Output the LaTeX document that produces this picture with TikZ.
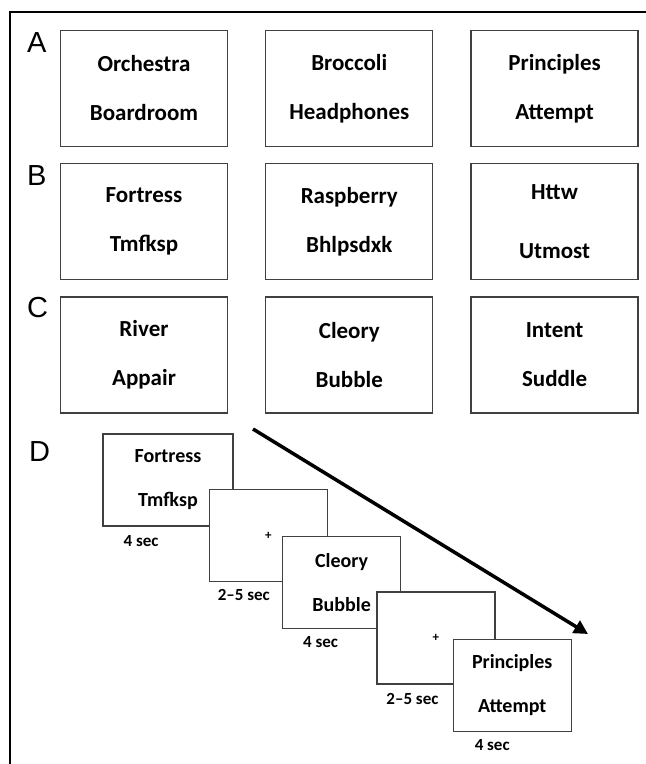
\documentclass[tikz,border=0pt]{standalone}
\usepackage{fontspec}
\setmainfont{Carlito}
\newfontfamily\panelfont{Liberation Sans}
\usepackage{tikz}
\usetikzlibrary{positioning}
\usetikzlibrary{arrows.meta}
\tikzstyle{wordbox} = [rectangle, draw=black!75, line width=1.3pt, minimum width=167pt, minimum height=116pt, align=center, font=\fontsize{23}{49}\selectfont\bfseries]
\tikzstyle{trialbox} = [rectangle, draw=black!75, fill=white, line width=1.3pt, minimum width=118pt, minimum height=92pt, align=center, font=\fontsize{20}{44}\selectfont\bfseries]
\tikzstyle{timelbl} = [anchor=west, inner sep=0pt, font=\fontsize{17}{20}\selectfont\bfseries]
\tikzstyle{panel} = [anchor=base west, inner sep=0pt, font=\fontsize{29}{32}\selectfont\panelfont]
\tikzstyle{arrow} = [line width=3.5pt, -{Triangle[length=14pt,width=14pt]}]
\begin{document}
\begin{tikzpicture}[x=1pt, y=-1pt]
		\useasboundingbox (0,0) rectangle (646,764);
		\draw[line width=2.5pt] (646,12) -- (10,12) -- (10,764);
		% A, B, C: word pairs
		\node[wordbox] (A1) at (144,88.5) {Orchestra\\Boardroom};
		\node[wordbox, right=37pt of A1] (A2) {Broccoli\\Headphones};
		\node[wordbox, right=37pt of A2] (A3) {Principles\\Attempt};
		\node[wordbox, below=16pt of A1] (B1) {Fortress\\Tmfksp};
		\node[wordbox, below=16pt of A2] (B2) {Raspberry\\Bhlpsdxk};
		\node[wordbox, below=16pt of A3] (B3) {Httw\\[10pt]Utmost};
		\node[wordbox, below=16pt of B1] (C1) {River\\Appair};
		\node[wordbox, below=16pt of B2] (C2) {Cleory\\Bubble};
		\node[wordbox, below=16pt of B3] (C3) {Intent\\Suddle};
		\node[panel] (labA) at (27,52) {A};
		\node[panel] (labB) at (27,185) {B};
		\node[panel] (labC) at (27,317) {C};
		\node[panel] (labD) at (29,461) {D};
		% D: trial sequence
		\node[trialbox, minimum width=130pt] (D1) at (168,480) {Fortress\\Tmfksp};
		\node[trialbox, right=-25pt of D1, yshift=-55.5pt, font=\fontsize{13}{15}\selectfont\bfseries] (D2) {+};
		\node[trialbox, right=-46pt of D2, yshift=-47pt] (D3) {Cleory\\Bubble};
		\node[trialbox, right=-25pt of D3, yshift=-55.5pt, font=\fontsize{13}{15}\selectfont\bfseries] (D4) {+};
		\node[trialbox, right=-43pt of D4, yshift=-47.5pt] (D5) {Principles\\Attempt};
		\node[timelbl, xshift=21pt, yshift=-14pt] (t1) at (D1.south west) {4 sec};
		\node[timelbl, xshift=9pt, yshift=-13pt] (t2) at (D2.south west) {2–5 sec};
		\node[timelbl, xshift=21pt, yshift=-13pt] (t3) at (D3.south west) {4 sec};
		\node[timelbl, xshift=10pt, yshift=-14pt] (t4) at (D4.south west) {2–5 sec};
		\node[timelbl, xshift=22pt, yshift=-13pt] (t5) at (D5.south west) {4 sec};
		\coordinate (arrS) at (253,429);
		\coordinate (arrE) at (588,634);
		\draw[arrow] (arrS) -- (arrE);
	\end{tikzpicture}
\end{document}
